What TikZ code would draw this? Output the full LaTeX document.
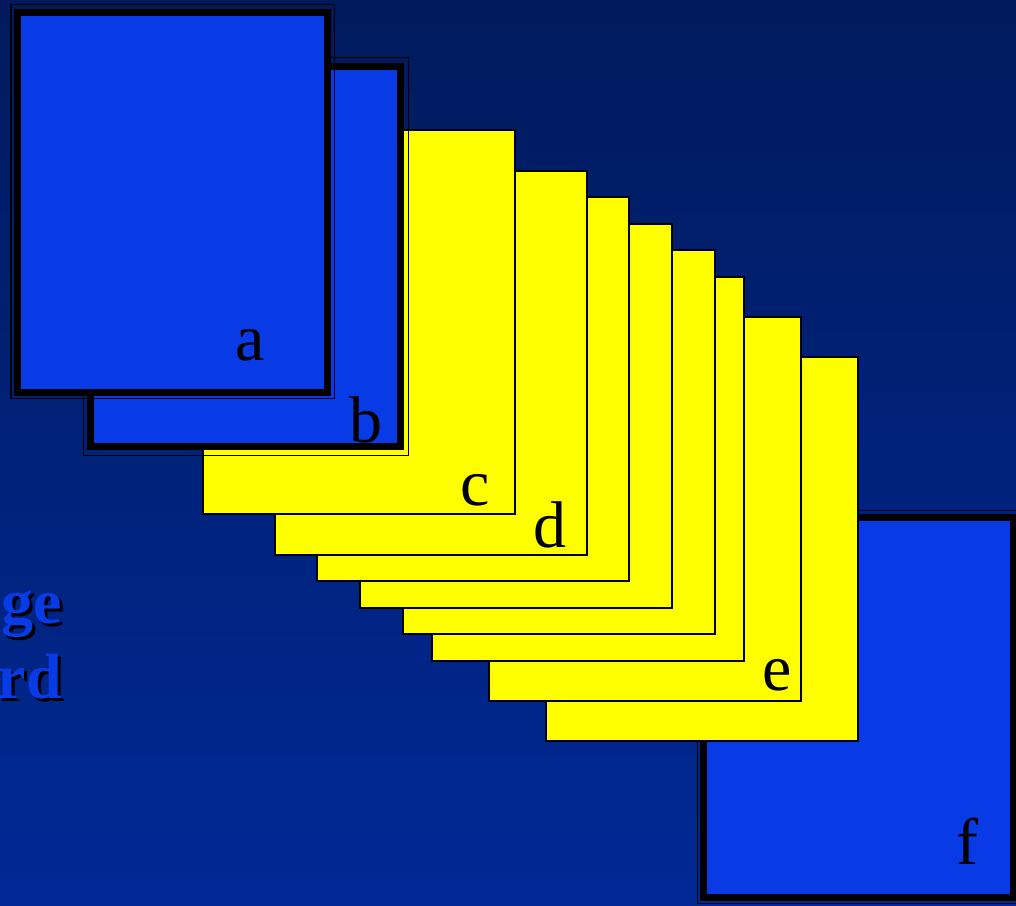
\documentclass[tikz,border=0pt]{standalone}
\usepackage{fontspec}
\setmainfont{Liberation Serif}
\usetikzlibrary{calc,positioning}
\definecolor{bgtop}{RGB}{0,26,92}
\definecolor{bgbot}{RGB}{0,41,150}
\definecolor{cardblue}{RGB}{8,58,230}
\definecolor{cardyellow}{RGB}{255,255,0}
\newcommand{\shadowtext}[1]{\makebox[0pt][l]{\hspace{3pt}\raisebox{-3pt}{\textcolor{black}{#1}}}\textcolor{cardblue}{#1}}

\begin{document}
\begin{tikzpicture}[x=1pt, y=-1pt,
  ycard/.style={draw, line width=2pt, fill=cardyellow, minimum width=312pt, minimum height=384pt, outer sep=0pt, inner sep=0pt, anchor=north west},
  bcard/.style={draw, line width=7pt, fill=cardblue, minimum width=310pt, minimum height=380pt, outer sep=0pt, inner sep=0pt, anchor=north west},
  rim/.style={draw, line width=1.5pt},
  lbl/.style={font=\fontsize{66}{66}\selectfont, anchor=base east, inner sep=0pt},
  side/.style={font=\bfseries\fontsize{64}{64}\selectfont, anchor=base east, inner sep=0pt}]
  \useasboundingbox (0,0) rectangle (1016,905);
  \clip (0,0) rectangle (1016,905);
  \shade[top color=bgtop, bottom color=bgbot] (0,0) rectangle (1016,905);
  % text cut at the left edge
  \node[side] (ge) at (62,623) {\shadowtext{ge}};
  \node[side] (rd) at (62,698) {\shadowtext{rd}};
  % blue card at the bottom
  \node[bcard] (f) at (703.5,517.5) {};
  \draw[rim] ($(f.north west)+(-6,-7)$) rectangle ($(f.south east)+(7,6)$);
  \node[lbl] (f-lbl) at ($(f.south east)+(-35,-33)$) {f};
  % yellow stack, back to front
  \foreach \nm/\px/\py in {y8/545.7/356.8, e/488.5/316.7, y6/431.7/276.9, y5/402.6/250.4,
                           y4/360.1/223.9, y3/317.2/196.9, d/274.7/170.8, c/202.7/129.8}
    \node[ycard] (\nm) at (\px,\py) {};
  \node[lbl] (c-lbl) at ($(c.south east)+(-25,-8)$) {c};
  \node[lbl] (d-lbl) at ($(d.south east)+(-20,-7)$) {d};
  \node[lbl] (e-lbl) at ($(e.south east)+(-9,-10)$) {e};
  % blue cards on top
  \node[bcard] (b) at (90.5,66.5) {};
  \draw[rim] ($(b.north west)+(-7,-9)$) rectangle ($(b.south east)+(8,9)$);
  \node[lbl] (b-lbl) at ($(b.south east)+(-18,-4)$) {b};
  \node[bcard] (a) at (17.5,12.5) {};
  \draw[rim] ($(a.north west)+(-6.5,-8)$) rectangle ($(a.south east)+(7,6)$);
  \node[lbl] (a-lbl) at ($(a.south east)+(-63,-32)$) {a};
\end{tikzpicture}
\end{document}
